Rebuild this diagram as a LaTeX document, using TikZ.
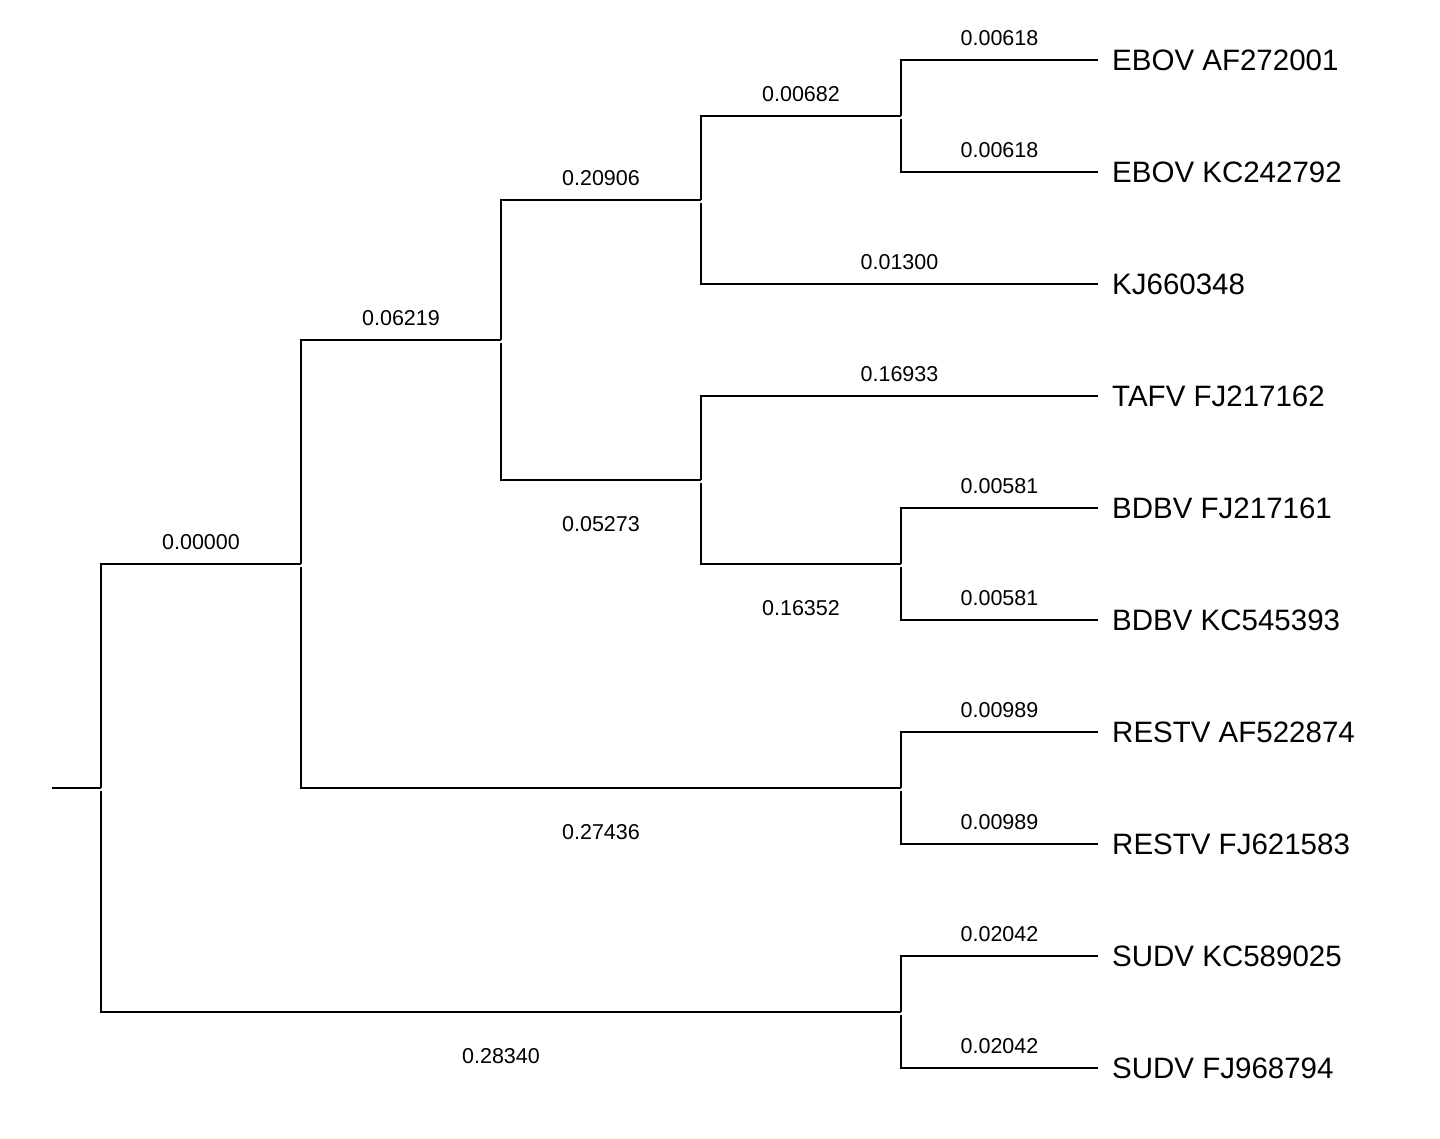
\documentclass[tikz,border=0pt]{standalone}
\usepackage{fontspec}
\setmainfont{Liberation Sans}
\begin{document}
\begin{tikzpicture}[x=1pt,y=-1pt,
  branch/.style={line width=2pt, line cap=butt, line join=miter},
  leaf/.style={anchor=west, inner xsep=14pt, inner ysep=0pt, font=\fontsize{29.5}{30}\selectfont},
  blen/.style={font=\fontsize{21.5}{22}\selectfont, inner sep=0pt},
  up/.style={blen, pos=0.75, yshift=22pt},
  down/.style={blen, pos=0.75, yshift=-44pt},
]
\useasboundingbox[fill=white] (0,0) rectangle (1440,1138);

\coordinate (stub) at (52,788);
\coordinate (root) at (101,788);
\coordinate (nA) at (301,564);
\coordinate (nB) at (501,340);
\coordinate (nC) at (701,200);
\coordinate (nD) at (901,116);
\coordinate (nE) at (701,480);
\coordinate (nF) at (901,564);
\coordinate (nG) at (901,788);
\coordinate (nH) at (901,1012);

\node[leaf] (l1) at (1098,60) {EBOV AF272001};
\node[leaf] (l2) at (1098,172) {EBOV KC242792};
\node[leaf] (l3) at (1098,284) {KJ660348};
\node[leaf] (l4) at (1098,396) {TAFV FJ217162};
\node[leaf] (l5) at (1098,508) {BDBV FJ217161};
\node[leaf] (l6) at (1098,620) {BDBV KC545393};
\node[leaf] (l7) at (1098,732) {RESTV AF522874};
\node[leaf] (l8) at (1098,844) {RESTV FJ621583};
\node[leaf] (l9) at (1098,956) {SUDV KC589025};
\node[leaf] (l10) at (1098,1068) {SUDV FJ968794};

% root stub
\draw[branch] (stub) -- (root);
% root children
\draw[branch] (root) |- node[up] {0.00000} (nA);
\draw[branch] ([yshift=-3pt]root) |- node[down] {0.28340} (nH);
% node A
\draw[branch] (nA) |- node[up] {0.06219} (nB);
\draw[branch] ([yshift=-3pt]nA) |- node[down] {0.27436} (nG);
% node B
\draw[branch] (nB) |- node[up] {0.20906} (nC);
\draw[branch] ([yshift=-3pt]nB) |- node[down] {0.05273} (nE);
% node C
\draw[branch] (nC) |- node[up] {0.00682} (nD);
\draw[branch] ([yshift=-3pt]nC) |- node[up] {0.01300} (l3.west);
% node D
\draw[branch] (nD) |- node[up] {0.00618} (l1.west);
\draw[branch] ([yshift=-3pt]nD) |- node[up] {0.00618} (l2.west);
% node E
\draw[branch] (nE) |- node[up] {0.16933} (l4.west);
\draw[branch] ([yshift=-3pt]nE) |- node[down] {0.16352} (nF);
% node F
\draw[branch] (nF) |- node[up] {0.00581} (l5.west);
\draw[branch] ([yshift=-3pt]nF) |- node[up] {0.00581} (l6.west);
% node G
\draw[branch] (nG) |- node[up] {0.00989} (l7.west);
\draw[branch] ([yshift=-3pt]nG) |- node[up] {0.00989} (l8.west);
% node H
\draw[branch] (nH) |- node[up] {0.02042} (l9.west);
\draw[branch] ([yshift=-3pt]nH) |- node[up] {0.02042} (l10.west);
\end{tikzpicture}
\end{document}
